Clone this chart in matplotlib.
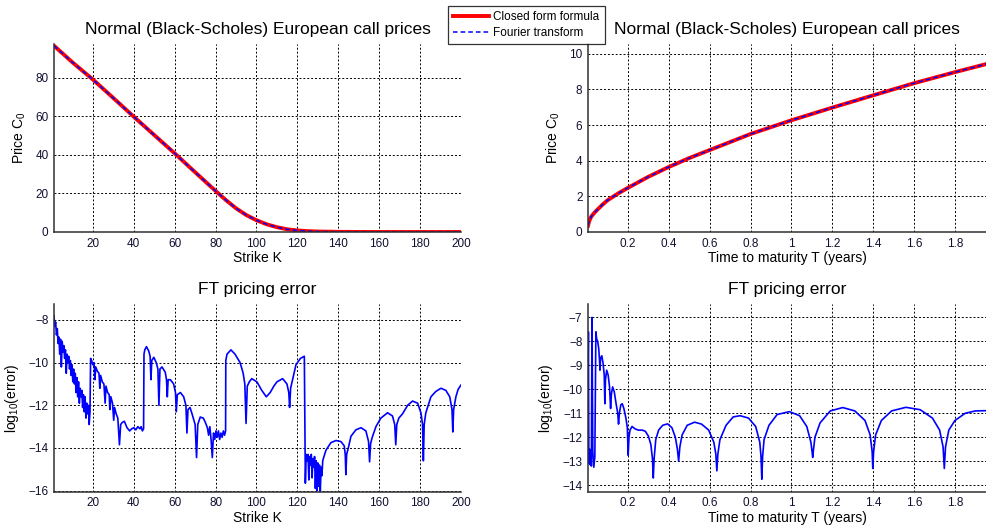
import matplotlib
matplotlib.use('Agg')
import matplotlib.pyplot as plt

plt.rcParams['font.family'] = ['Liberation Sans', 'DejaVu Sans']
plt.rcParams['mathtext.fontset'] = 'custom'
plt.rcParams['mathtext.rm'] = 'Liberation Sans'
plt.rcParams['mathtext.it'] = 'Liberation Sans:italic'

# ---- prices vs strike (T fixed)
strike = [1, 10, 20, 30, 40, 50, 60, 70, 80, 85, 90, 95, 100, 105, 110,
          115, 120, 125, 130, 140, 150, 175, 200]
price_K = [96.6, 88.0, 79.1, 69.5, 59.8, 50.3, 40.8, 31.0, 21.3, 16.6, 12.3,
           8.8, 6.1, 4.0, 2.5, 1.4, 0.8, 0.45, 0.25, 0.08, 0.02, 0.0, 0.0]

# ---- prices vs maturity (K fixed)
maturity = [0.0045, 0.01, 0.02, 0.035, 0.05, 0.075, 0.1, 0.15, 0.2, 0.3, 0.4,
            0.5, 0.6, 0.8, 1.0, 1.2, 1.4, 1.6, 1.8, 1.952]
price_T = [0.35, 0.6, 0.86, 1.07, 1.25, 1.53, 1.78, 2.15, 2.48, 3.1, 3.65,
           4.15, 4.6, 5.5, 6.27, 6.98, 7.67, 8.35, 8.97, 9.42]

# ---- log10 FT error vs strike
err_K = [1.0, 1.4, 1.8, 2.2, 2.6, 3.0, 3.4, 3.8, 4.2, 4.6, 5.0, 5.4, 5.8, 6.2,
         6.6, 7.0, 7.4, 7.8, 8.2, 8.6, 9.0, 9.4, 9.8, 10.2, 10.6, 11.0, 11.4,
         11.8, 12.2, 12.6, 13.0, 13.4, 13.8, 14.2, 14.6, 15.0, 15.4, 15.8,
         16.2, 16.6, 17.0, 17.4, 17.8, 18.2, 18.6,
         18.9, 19.4, 20.0, 20.6, 21.0, 21.4, 22.2, 23.0, 23.4, 23.8, 24.6,
         25.4, 26.0, 26.4, 27.2, 28.0, 28.3, 28.8, 29.6, 30.2, 30.6, 31.4,
         32.2, 33.0, 33.6, 34.4, 35.4, 36.7, 38.0, 39.0, 40.0, 41.0, 42.0,
         43.0, 43.6, 44.2, 44.8,
         45.0, 45.4, 46.2, 47.3, 48.0, 48.4, 48.8, 49.8, 51.0, 51.8, 52.3,
         52.8, 53.8, 55.4, 56.0, 56.4, 56.8, 57.9, 59.5, 60.4, 60.8, 61.3,
         62.8, 64.4, 65.5, 66.0, 66.5, 67.5, 68.5, 70.0, 70.7, 71.3, 72.5,
         74.0, 75.0, 76.0, 76.6, 77.2, 77.8, 78.4, 79.0, 79.6, 80.2, 80.8,
         81.4, 82.0, 82.6, 83.2, 83.8, 84.4, 84.9,
         85.0, 85.6, 87.5, 89.5, 92.0, 93.5, 94.3, 94.9, 95.5, 96.5, 97.7,
         100.2, 102.6, 104.8, 106.7, 108.5, 110.0, 112.8, 114.9, 115.8,
         116.2, 116.7, 117.4, 119.3, 121.5, 123.4,
         123.9, 124.3, 124.8, 125.2, 125.6, 126.0, 126.4, 126.8, 127.2,
         127.6, 128.0, 128.4, 128.8, 129.2, 129.6, 130.0, 130.4, 130.8,
         131.2, 131.6, 132.0, 132.4, 133.0, 134.0, 136.4, 138.9, 141.3,
         142.9, 143.4, 143.7, 144.1, 144.9, 146.2, 148.6, 151.1, 153.5,
         154.8, 155.3, 155.8, 156.6, 158.4, 160.8, 164.1, 166.5, 167.6,
         168.1, 168.6, 169.6, 171.4, 173.9, 176.3, 178.8, 180.4, 181.2,
         181.6, 182.0, 182.8, 185.3, 187.7, 190.2, 192.6, 194.5, 195.6,
         196.0, 196.4, 197.5, 198.6, 200.0]
logerr_K = [-7.8, -8.3, -8.1, -8.7, -8.4, -9.1, -8.8, -9.6, -8.9, -10.2, -9.0,
            -9.5, -9.2, -9.8, -9.4, -10.5, -9.6, -10.0, -9.7, -10.3, -9.9,
            -10.6, -10.1, -10.9, -10.3, -11.0, -10.5, -11.4, -10.7, -11.6,
            -10.9, -11.9, -11.2, -11.6, -11.3, -12.1, -11.5, -12.3, -11.6,
            -12.6, -11.9, -12.4, -12.0, -12.9, -12.3,
            -9.8, -9.9, -10.1, -10.0, -10.8, -10.2, -10.4, -10.5, -11.2,
            -10.6, -10.9, -11.0, -11.9, -11.1, -11.4, -11.5, -12.2, -11.6,
            -11.9, -12.7, -12.1, -12.4, -12.6, -13.85, -12.9, -12.8, -12.75,
            -13.05, -13.2, -13.1, -13.05, -13.15, -13.0, -13.1, -13.0, -13.2,
            -13.1,
            -9.6, -9.4, -9.25, -9.45, -9.7, -10.8, -9.9, -9.75, -10.0, -10.3,
            -12.0, -10.3, -10.2, -10.45, -10.8, -11.6, -10.8, -10.8, -11.0,
            -11.4, -12.3, -11.5, -11.4, -11.6, -12.0, -13.3, -12.2, -12.1,
            -12.4, -12.9, -14.45, -12.9, -12.55, -12.6, -12.8, -13.05, -13.4,
            -13.0, -13.6, -14.45, -13.3, -13.6, -13.2, -13.5, -13.2, -13.6,
            -13.3, -13.5, -13.2, -13.4, -13.2,
            -9.9, -9.6, -9.4, -9.6, -10.0, -10.5, -11.0, -12.85, -11.1, -10.9,
            -10.75, -10.9, -11.3, -11.6, -11.4, -11.1, -10.9, -10.75, -11.0,
            -11.4, -12.1, -11.2, -10.9, -10.1, -9.8, -9.7,
            -15.65, -14.3, -14.6, -14.3, -15.5, -14.4, -14.8, -14.3, -15.4,
            -14.5, -14.9, -14.4, -15.9, -14.6, -16.0, -14.7, -15.8, -14.8,
            -16.05, -14.9, -15.3, -14.6, -14.4, -14.1, -13.75, -13.65, -13.7,
            -13.9, -14.3, -15.25, -14.3, -14.0, -13.45, -13.15, -13.05, -13.2,
            -13.7, -14.65, -13.8, -13.5, -13.0, -12.6, -12.35, -12.5, -12.9,
            -13.85, -12.9, -12.6, -12.4, -12.0, -11.8, -11.9, -12.35, -12.9,
            -14.6, -12.9, -12.35, -11.6, -11.35, -11.2, -11.3, -11.6, -12.2,
            -13.25, -12.2, -11.6, -11.25, -11.05]

# ---- log10 FT error vs maturity
err_T = [0.0045, 0.0065, 0.0085, 0.011, 0.0135, 0.016, 0.0185, 0.021, 0.024,
         0.028, 0.033, 0.038, 0.043, 0.047, 0.052, 0.057, 0.061, 0.063,
         0.066, 0.072, 0.078, 0.084, 0.087, 0.090, 0.096, 0.103, 0.110,
         0.115, 0.119, 0.125, 0.133, 0.142, 0.150, 0.154, 0.158, 0.165,
         0.172, 0.180, 0.190, 0.197, 0.201, 0.205, 0.210, 0.220, 0.235,
         0.250, 0.270, 0.285, 0.300, 0.312, 0.320, 0.324, 0.328, 0.336,
         0.350, 0.370, 0.394, 0.415, 0.432, 0.442, 0.448, 0.454, 0.465,
         0.490, 0.526, 0.560, 0.595, 0.620, 0.630, 0.635, 0.640, 0.650,
         0.680, 0.715, 0.749, 0.790, 0.825, 0.845, 0.851, 0.855, 0.859,
         0.866, 0.890, 0.930, 0.990, 1.040, 1.075, 1.095, 1.101, 1.104,
         1.108, 1.115, 1.140, 1.190, 1.251, 1.310, 1.360, 1.385, 1.395,
         1.398, 1.402, 1.412, 1.440, 1.490, 1.560, 1.630, 1.690, 1.725,
         1.742, 1.748, 1.754, 1.770, 1.800, 1.850, 1.900, 1.952]
logerr_T = [-9.5, -7.6, -12.6, -13.1, -12.5, -13.15, -12.6, -13.2, -7.0,
            -12.6, -13.25, -12.8, -7.6, -7.9, -8.0, -8.3, -8.8, -9.2, -8.7,
            -8.6, -8.9, -9.4, -10.6, -9.6, -9.2, -9.4, -9.9, -10.8, -10.2,
            -9.9, -10.1, -10.6, -11.0, -11.45, -11.0, -10.65, -10.6, -10.8,
            -11.2, -11.6, -12.75, -12.0, -11.7, -11.55, -11.65, -11.7, -11.7,
            -11.75, -11.95, -12.3, -12.9, -13.7, -12.9, -12.1, -11.7, -11.5,
            -11.44, -11.6, -12.0, -12.5, -13.0, -12.4, -11.9, -11.5, -11.37,
            -11.45, -11.7, -12.2, -12.7, -13.4, -12.7, -12.1, -11.5, -11.15,
            -11.1, -11.2, -11.55, -12.2, -12.8, -13.75, -12.8, -12.1, -11.5,
            -11.05, -10.93, -11.1, -11.55, -12.2, -12.6, -12.84, -12.5, -12.0,
            -11.4, -10.9, -10.76, -10.9, -11.3, -11.9, -12.6, -13.3, -12.6,
            -11.9, -11.3, -10.9, -10.75, -10.85, -11.2, -11.7, -12.4, -13.3,
            -12.4, -11.7, -11.3, -11.0, -10.9, -10.89]

W, H = 987, 526
fig = plt.figure(figsize=(W / 100, H / 100), dpi=100)


def make_ax(x0, x1, y0, y1):
    return fig.add_axes([x0 / W, 1 - y1 / H, (x1 - x0) / W, (y1 - y0) / H])


def style(ax):
    for s in ['top', 'right']:
        ax.spines[s].set_visible(False)
    for s in ['left', 'bottom']:
        ax.spines[s].set_color('#303030')
        ax.spines[s].set_linewidth(1.1)
    ax.grid(True, color='black', linestyle=(0, (2, 2)), linewidth=0.7)
    ax.tick_params(direction='in', length=0, labelsize=8.5, pad=4,
                   colors='#101030')
    ax.set_axisbelow(True)


ax1 = make_ax(54, 461, 44, 232)
ax2 = make_ax(588, 986, 44, 232)
ax3 = make_ax(54, 461, 304, 491.7)
ax4 = make_ax(588, 986, 304, 491.7)

title = 'Normal (Black-Scholes) European call prices'
t_ticks = [0.2, 0.4, 0.6, 0.8, 1, 1.2, 1.4, 1.6, 1.8]
t_labels = ['0.2', '0.4', '0.6', '0.8', '1', '1.2', '1.4', '1.6', '1.8']

l_red, = ax1.plot(strike, price_K, color='red', lw=2.8)
l_blue, = ax1.plot(strike, price_K, color='blue', lw=1.1, linestyle=(0, (3, 2)))
ax1.set_xlim(1, 200)
ax1.set_ylim(0, 97.5)
ax1.set_xticks(range(20, 201, 20))
ax1.set_yticks(range(0, 81, 20))
ax1.set_title(title, fontsize=12.5, pad=7)
ax1.set_xlabel('Strike K', fontsize=10, labelpad=1)
ax1.set_ylabel('Price C$_0$', fontsize=10, labelpad=5)

ax2.plot(maturity, price_T, color='red', lw=2.8)
ax2.plot(maturity, price_T, color='blue', lw=1.1, linestyle=(0, (3, 2)))
ax2.set_xlim(0.0045, 1.952)
ax2.set_ylim(0, 10.55)
ax2.set_xticks(t_ticks)
ax2.set_xticklabels(t_labels)
ax2.set_yticks(range(0, 11, 2))
ax2.set_title(title, fontsize=12.5, pad=7)
ax2.set_xlabel('Time to maturity T (years)', fontsize=10, labelpad=1)
ax2.set_ylabel('Price C$_0$', fontsize=10, labelpad=5)

ax3.plot(err_K, logerr_K, color='blue', lw=1.2)
ax3.set_xlim(1, 200)
ax3.set_ylim(-16.05, -7.25)
ax3.set_xticks(range(20, 201, 20))
ax3.set_yticks(range(-16, -7, 2))
ax3.set_title('FT pricing error', fontsize=12.5, pad=7)
ax3.set_xlabel('Strike K', fontsize=10, labelpad=1)
ax3.set_ylabel('log$_{10}$(error)', fontsize=10, labelpad=5)

ax4.plot(err_T, logerr_T, color='blue', lw=1.2)
ax4.set_xlim(0.0045, 1.952)
ax4.set_ylim(-14.27, -6.44)
ax4.set_xticks(t_ticks)
ax4.set_xticklabels(t_labels)
ax4.set_yticks(range(-14, -6, 1))
ax4.set_title('FT pricing error', fontsize=12.5, pad=7)
ax4.set_xlabel('Time to maturity T (years)', fontsize=10, labelpad=1)
ax4.set_ylabel('log$_{10}$(error)', fontsize=10, labelpad=5)

for ax in [ax1, ax2, ax3, ax4]:
    style(ax)

leg = fig.legend([l_red, l_blue], ['Closed form formula', 'Fourier transform'],
                 loc='upper left', bbox_to_anchor=(448 / W, 1 - 6 / H),
                 fontsize=8.5, frameon=True, fancybox=False, edgecolor='black',
                 handlelength=3.0, handletextpad=0.4, borderpad=0.45,
                 labelspacing=0.3, borderaxespad=0)
leg.get_frame().set_linewidth(0.9)

fig.savefig('out.png', dpi=100)
